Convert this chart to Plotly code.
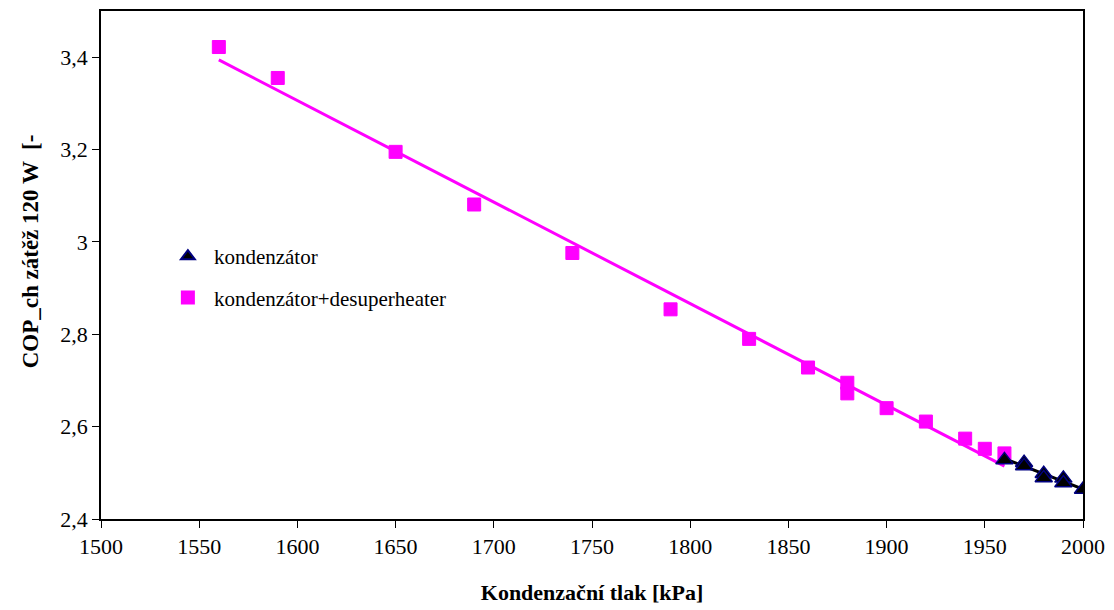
import numpy as np
import plotly.graph_objects as go

# Condensing pressure [kPa] and COP for the plain condenser
x_kond = [1960, 1970, 1970, 1980, 1980, 1990, 1990, 2000]
y_kond = [2.528, 2.522, 2.515, 2.498, 2.489, 2.488, 2.478, 2.464]

# Condensing pressure [kPa] and COP for condenser + desuperheater
x_desup = [1560, 1590, 1650, 1690, 1740, 1790, 1830, 1860, 1880, 1880,
           1900, 1920, 1940, 1950, 1960]
y_desup = [3.422, 3.355, 3.195, 3.081, 2.976, 2.854, 2.790, 2.728, 2.695, 2.672,
           2.640, 2.611, 2.574, 2.552, 2.542]

y_tickvals = [2.4, 2.6, 2.8, 3.0, 3.2, 3.4]
y_ticktext = ["2,4", "2,6", "2,8", "3", "3,2", "3,4"]
x_tickvals = [1500, 1550, 1600, 1650, 1700, 1750, 1800, 1850, 1900, 1950, 2000]

FONT = "Liberation Serif"


def linear_trend(xs, ys):
    k, q = np.polyfit(xs, ys, 1)
    xt = np.array([min(xs), max(xs)], dtype=float)
    return xt, k * xt + q


fig = go.Figure()

# linear trend lines (not in legend)
xt, yt = linear_trend(x_desup, y_desup)
fig.add_trace(go.Scatter(x=xt, y=yt, mode="lines", showlegend=False,
                         line=dict(color="#FF00FF", width=3), hoverinfo="skip"))
xt, yt = linear_trend(x_kond, y_kond)
fig.add_trace(go.Scatter(x=xt, y=yt, mode="lines", showlegend=False,
                         line=dict(color="#000000", width=3), hoverinfo="skip"))

fig.add_trace(go.Scatter(
    x=x_desup, y=y_desup, mode="markers", name="kondenzátor+desuperheater",
    legendgroup="b", legendrank=2,
    marker=dict(symbol="square", size=13, color="#FF00FF",
                line=dict(color="#FF00FF", width=1))))

fig.add_trace(go.Scatter(
    x=x_kond, y=y_kond, mode="markers", name="kondenzátor",
    legendgroup="a", legendrank=1,
    marker=dict(symbol="triangle-up", size=15, color="#000000",
                line=dict(color="#000080", width=1.5))))

fig.update_layout(
    width=1114, height=610,
    autosize=False,
    paper_bgcolor="white", plot_bgcolor="white",
    margin=dict(l=101, r=31, t=9, b=89),
    separators=", ",
    font=dict(family=FONT, size=21, color="black"),
    showlegend=True,
    legend=dict(x=0.062, y=0.557, xanchor="left", yanchor="top",
                bgcolor="rgba(0,0,0,0)", borderwidth=0,
                traceorder="grouped", tracegroupgap=11,
                itemwidth=42,
                font=dict(family=FONT, size=21, color="black"),
                itemsizing="constant"),
)

fig.update_xaxes(
    range=[1500, 2000], tickvals=x_tickvals,
    showgrid=False, zeroline=False,
    showline=True, linecolor="black", linewidth=1.5, mirror=True,
    ticks="outside", ticklen=7, tickcolor="black", tickwidth=1,
    tickfont=dict(family=FONT, size=22, color="black"),
    title=dict(text="<b>Kondenzační tlak [kPa]</b>", standoff=26,
               font=dict(family=FONT, size=22, color="black")),
)

fig.update_yaxes(
    range=[2.4, 3.5], tickvals=y_tickvals, ticktext=y_ticktext,
    showgrid=False, zeroline=False,
    showline=True, linecolor="black", linewidth=1.5, mirror=True,
    ticks="outside", ticklen=7, tickcolor="black", tickwidth=1,
    tickfont=dict(family=FONT, size=22, color="black"),
)

# vertical axis title, placed as a rotated annotation
fig.add_annotation(
    text="<b>COP_ch zátěž 120 W  [-</b>",
    xref="paper", yref="paper", x=-0.0723, y=0.527,
    xanchor="center", yanchor="middle", textangle=-90, showarrow=False,
    font=dict(family=FONT, size=23, color="black"),
)

fig.write_html("out.html")
